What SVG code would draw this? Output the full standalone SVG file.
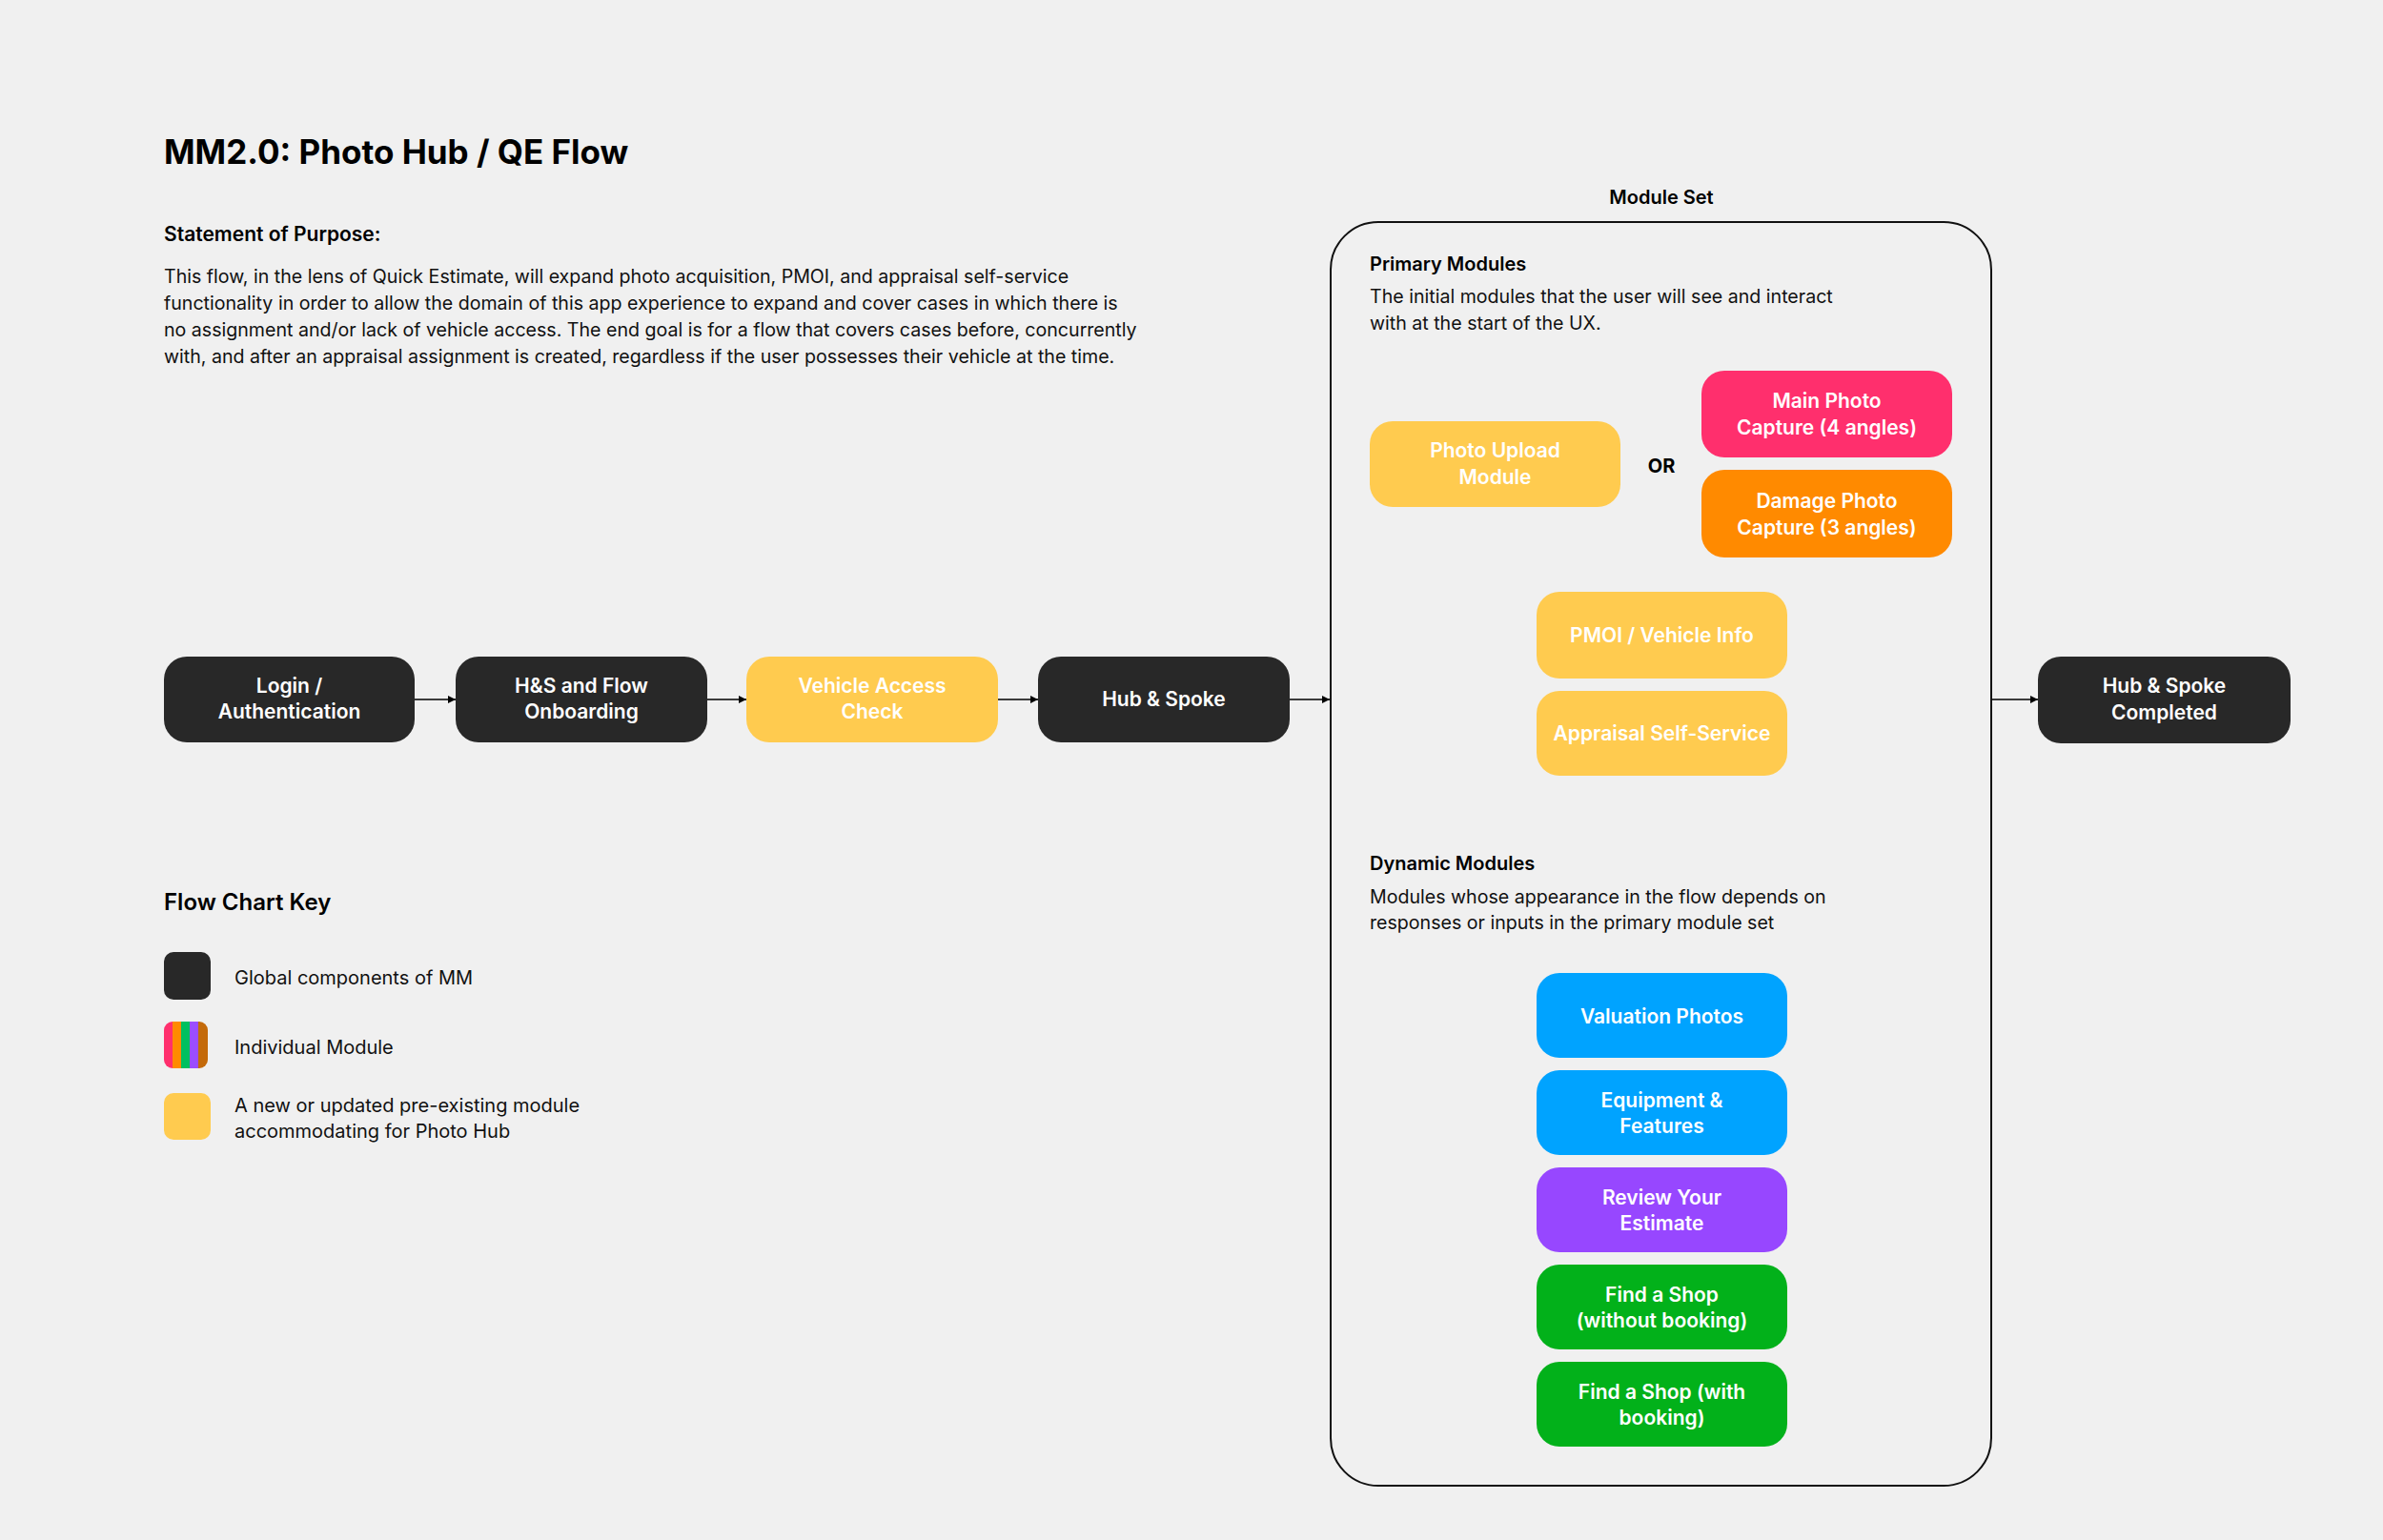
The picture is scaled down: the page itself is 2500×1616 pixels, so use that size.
<svg xmlns="http://www.w3.org/2000/svg" width="2500" height="1616" viewBox="0 0 2500 1616">
<defs>
<marker id="arr" viewBox="0 0 10 10" refX="10" refY="5" markerWidth="8" markerHeight="8" markerUnits="userSpaceOnUse" orient="auto">
<path d="M0,0 L10,5 L0,10 z" fill="#000"/>
</marker>
<style>
text{font-family:Inter,"Noto Sans",sans-serif;}
.nt{fill:#fff;font-size:21px;font-weight:600;text-anchor:middle;}
.dark{fill:#282828;}
.yel{fill:#FFCB4F;}
.pink{fill:#FF2F6D;}
.org{fill:#FF8A00;}
.blue{fill:#00A3FF;}
.purp{fill:#9747FF;}
.grn{fill:#02B11A;}
.body{fill:#111;font-size:19.6px;font-weight:400;}
.key{fill:#111;font-size:20px;font-weight:400;}
.hd{fill:#000;font-size:21px;font-weight:600;}
.conn{stroke:#000;stroke-width:1.6;fill:none;marker-end:url(#arr);}
</style>
</defs>
<rect x="0" y="0" width="2500" height="1616" fill="#F0F0F0"/>

<g id="header">
<text x="172" y="172" style="font-size:35px;font-weight:700;fill:#000">MM2.0: Photo Hub / QE Flow</text>
<text x="172" y="253" class="hd">Statement of Purpose:</text>
<text class="body">
<tspan x="172" y="297">This flow, in the lens of Quick Estimate, will expand photo acquisition, PMOI, and appraisal self-service</tspan>
<tspan x="172" y="325">functionality in order to allow the domain of this app experience to expand and cover cases in which there is</tspan>
<tspan x="172" y="353">no assignment and/or lack of vehicle access. The end goal is for a flow that covers cases before, concurrently</tspan>
<tspan x="172" y="381">with, and after an appraisal assignment is created, regardless if the user possesses their vehicle at the time.</tspan>
</text>
</g>

<g id="connectors">
<line class="conn" x1="435" y1="734" x2="478" y2="734"/>
<line class="conn" x1="742" y1="734" x2="783" y2="734"/>
<line class="conn" x1="1047" y1="734" x2="1089" y2="734"/>
<line class="conn" x1="1353" y1="734" x2="1395" y2="734"/>
<line class="conn" x1="2090" y1="734" x2="2138" y2="734"/>
</g>

<g id="login">
<rect class="dark" x="172" y="689" width="263" height="90" rx="24"/>
<text class="nt" x="303.5" y="727">Login /</text>
<text class="nt" x="303.5" y="754">Authentication</text>
</g>
<g id="hs-onboarding">
<rect class="dark" x="478" y="689" width="264" height="90" rx="24"/>
<text class="nt" x="610" y="727">H&amp;S and Flow</text>
<text class="nt" x="610" y="754">Onboarding</text>
</g>
<g id="vehicle-access">
<rect class="yel" x="783" y="689" width="264" height="90" rx="24"/>
<text class="nt" x="915" y="727">Vehicle Access</text>
<text class="nt" x="915" y="754">Check</text>
</g>
<g id="hub-spoke">
<rect class="dark" x="1089" y="689" width="264" height="90" rx="24"/>
<text class="nt" x="1221" y="741">Hub &amp; Spoke</text>
</g>

<g id="module-set">
<text x="1743" y="214" style="font-size:20px;font-weight:600;fill:#000;text-anchor:middle">Module Set</text>
<rect x="1396" y="233" width="693" height="1326" rx="50" fill="none" stroke="#111" stroke-width="2"/>
<text x="1437" y="284" class="hd" style="font-size:20px">Primary Modules</text>
<text class="body">
<tspan x="1437" y="318">The initial modules that the user will see and interact</tspan>
<tspan x="1437" y="346">with at the start of the UX.</tspan>
</text>
<text x="1743" y="496" style="font-size:20px;font-weight:700;fill:#000;text-anchor:middle">OR</text>
<text x="1437" y="913" class="hd" style="font-size:20px">Dynamic Modules</text>
<text class="body">
<tspan x="1437" y="948">Modules whose appearance in the flow depends on</tspan>
<tspan x="1437" y="975">responses or inputs in the primary module set</tspan>
</text>
</g>

<g id="photo-upload">
<rect class="yel" x="1437" y="442" width="263" height="90" rx="24"/>
<text class="nt" x="1568.5" y="480">Photo Upload</text>
<text class="nt" x="1568.5" y="508">Module</text>
</g>
<g id="main-photo">
<rect class="pink" x="1785" y="389" width="263" height="91" rx="24"/>
<text class="nt" x="1916.5" y="428">Main Photo</text>
<text class="nt" x="1916.5" y="456">Capture (4 angles)</text>
</g>
<g id="damage-photo">
<rect class="org" x="1785" y="493" width="263" height="92" rx="24"/>
<text class="nt" x="1916.5" y="533">Damage Photo</text>
<text class="nt" x="1916.5" y="561">Capture (3 angles)</text>
</g>
<g id="pmoi">
<rect class="yel" x="1612" y="621" width="263" height="91" rx="24"/>
<text class="nt" x="1743.5" y="674">PMOI / Vehicle Info</text>
</g>
<g id="appraisal">
<rect class="yel" x="1612" y="725" width="263" height="89" rx="24"/>
<text class="nt" x="1743.5" y="777">Appraisal Self-Service</text>
</g>

<g id="valuation">
<rect class="blue" x="1612" y="1021" width="263" height="89" rx="24"/>
<text class="nt" x="1743.5" y="1074">Valuation Photos</text>
</g>
<g id="equipment">
<rect class="blue" x="1612" y="1123" width="263" height="89" rx="24"/>
<text class="nt" x="1743.5" y="1162">Equipment &amp;</text>
<text class="nt" x="1743.5" y="1189">Features</text>
</g>
<g id="review">
<rect class="purp" x="1612" y="1225" width="263" height="89" rx="24"/>
<text class="nt" x="1743.5" y="1264">Review Your</text>
<text class="nt" x="1743.5" y="1291">Estimate</text>
</g>
<g id="shop-without">
<rect class="grn" x="1612" y="1327" width="263" height="89" rx="24"/>
<text class="nt" x="1743.5" y="1366">Find a Shop</text>
<text class="nt" x="1743.5" y="1393">(without booking)</text>
</g>
<g id="shop-with">
<rect class="grn" x="1612" y="1429" width="263" height="89" rx="24"/>
<text class="nt" x="1743.5" y="1468">Find a Shop (with</text>
<text class="nt" x="1743.5" y="1495">booking)</text>
</g>

<g id="hub-spoke-completed">
<rect class="dark" x="2138" y="689" width="265" height="91" rx="24"/>
<text class="nt" x="2270.5" y="727">Hub &amp; Spoke</text>
<text class="nt" x="2270.5" y="755">Completed</text>
</g>

<g id="key">
<text x="172" y="955" style="font-size:24px;font-weight:600;fill:#000">Flow Chart Key</text>
<rect class="dark" x="172" y="999" width="49" height="50" rx="10"/>
<text x="246" y="1033" class="key">Global components of MM</text>
<clipPath id="kc"><rect x="172" y="1072" width="46" height="49" rx="9"/></clipPath>
<g clip-path="url(#kc)">
<rect x="172" y="1072" width="10" height="49" fill="#FF2F6D"/>
<rect x="181" y="1072" width="10" height="49" fill="#FF8A00"/>
<rect x="190" y="1072" width="10" height="49" fill="#00C060"/>
<rect x="199" y="1072" width="10" height="49" fill="#9B4DFF"/>
<rect x="208" y="1072" width="10" height="49" fill="#C46A0A"/>
</g>
<text x="246" y="1106" class="key">Individual Module</text>
<rect class="yel" x="172" y="1147" width="49" height="49" rx="10"/>
<text class="key">
<tspan x="246" y="1167">A new or updated pre-existing module</tspan>
<tspan x="246" y="1194">accommodating for Photo Hub</tspan>
</text>
</g>
</svg>
